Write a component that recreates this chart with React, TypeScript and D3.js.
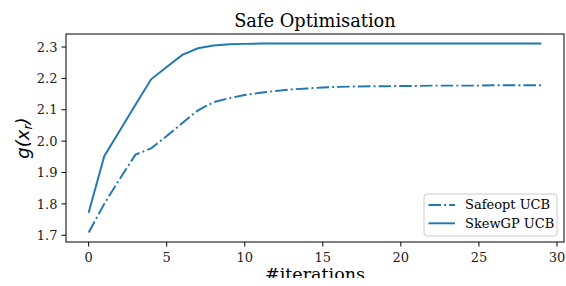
import * as d3 from "d3";

const iterations = d3.range(0, 30);

const safeoptUCB = [
  1.709, 1.8, 1.88, 1.957, 1.977, 2.016, 2.058, 2.098, 2.124, 2.137,
  2.147, 2.154, 2.16, 2.165, 2.168, 2.171, 2.173, 2.174, 2.175, 2.175,
  2.176, 2.176, 2.177, 2.177, 2.177, 2.177, 2.178, 2.178, 2.178, 2.178,
];

const skewgpUCB = [
  1.772, 1.952, 2.034, 2.116, 2.197, 2.236, 2.275, 2.296, 2.305, 2.309,
  2.31, 2.311, 2.311, 2.311, 2.311, 2.311, 2.311, 2.311, 2.311, 2.311,
  2.311, 2.311, 2.311, 2.311, 2.311, 2.311, 2.311, 2.311, 2.311, 2.311,
];

const xTicks = [0, 5, 10, 15, 20, 25, 30];
const yTicks = [1.7, 1.8, 1.9, 2.0, 2.1, 2.2, 2.3];

const series = [
  { name: "Safeopt UCB", values: safeoptUCB, dash: "12.5,3.1,2,3.1" },
  { name: "SkewGP UCB", values: skewgpUCB, dash: "none" },
];

const W = 566;
const H = 286;
const left = 66;
const right = 564;
const top = 34;
const bottom = 242;
const blue = "#1f77b4";
const serif = "'DejaVu Serif', serif";

export default function App() {
  const x = d3.scaleLinear().domain([-1.45, 30.45]).range([left, right]);
  const y = d3.scaleLinear().domain([1.6785, 2.3415]).range([bottom, top]);

  const line = d3
    .line<number>()
    .x((d, i) => x(iterations[i]))
    .y((d) => y(d));

  const legX = 424;
  const legY = 194;

  return (
    <svg
      width={W}
      height={H}
      style={{ position: "absolute", left: 0, top: 0, background: "#fff" }}
    >
      <defs>
        <clipPath id="plot">
          <rect x={left} y={top} width={right - left} height={bottom - top} />
        </clipPath>
        <clipPath id="bottomcut">
          <rect x={0} y={0} width={W} height={278} />
        </clipPath>
      </defs>

      <g clipPath="url(#plot)">
        {series.map((s) => (
          <path
            key={s.name}
            d={line(s.values) ?? ""}
            fill="none"
            stroke={blue}
            strokeWidth={1.95}
            strokeDasharray={s.dash}
          />
        ))}
      </g>

      <rect
        x={left}
        y={top}
        width={right - left}
        height={bottom - top}
        fill="none"
        stroke="#000"
        strokeWidth={1}
      />

      {xTicks.map((t) => (
        <g key={"x" + t} transform={`translate(${x(t)},${bottom})`}>
          <line y1={0} y2={4.5} stroke="#000" strokeWidth={1} />
          <text
            y={19.5}
            textAnchor="middle"
            fontFamily={serif}
            fontSize={13}
            fill="#222"
          >
            {t}
          </text>
        </g>
      ))}

      {yTicks.map((t) => (
        <g key={"y" + t} transform={`translate(${left},${y(t)})`}>
          <line x1={0} x2={-4.5} stroke="#000" strokeWidth={1} />
          <text
            x={-8.5}
            dy="0.36em"
            textAnchor="end"
            fontFamily={serif}
            fontSize={13}
            fill="#222"
          >
            {t.toFixed(1)}
          </text>
        </g>
      ))}

      <text
        x={(left + right) / 2}
        y={26.5}
        textAnchor="middle"
        fontFamily={serif}
        fontSize={17.8}
        fill="#000"
      >
        Safe Optimisation
      </text>

      <g clipPath="url(#bottomcut)">
        <text
          x={(left + right) / 2}
          y={280}
          textAnchor="middle"
          fontFamily={serif}
          fontSize={17.5}
          fill="#000"
        >
          #iterations
        </text>
      </g>

      <text
        transform={`translate(29,${(top + bottom) / 2}) rotate(-90)`}
        textAnchor="middle"
        fontFamily="'DejaVu Sans', sans-serif"
        fontStyle="italic"
        fontSize={18}
        fill="#000"
      >
        g(x<tspan fontSize={12.6} dy={3}>r</tspan>
        <tspan dy={-3}>)</tspan>
      </text>

      <rect
        x={legX}
        y={legY}
        width={133}
        height={42}
        rx={3}
        fill="#fff"
        fillOpacity={0.8}
        stroke="#cccccc"
        strokeWidth={1}
      />
      {series.map((s, i) => (
        <g key={"leg" + s.name} transform={`translate(${legX},${legY + 11 + i * 18.3})`}>
          <line
            x1={4.5}
            x2={31}
            stroke={blue}
            strokeWidth={1.95}
            strokeDasharray={s.dash}
          />
          <text
            x={41}
            dy="0.33em"
            fontFamily={serif}
            fontSize={13}
            fill="#000"
          >
            {s.name}
          </text>
        </g>
      ))}
    </svg>
  );
}
